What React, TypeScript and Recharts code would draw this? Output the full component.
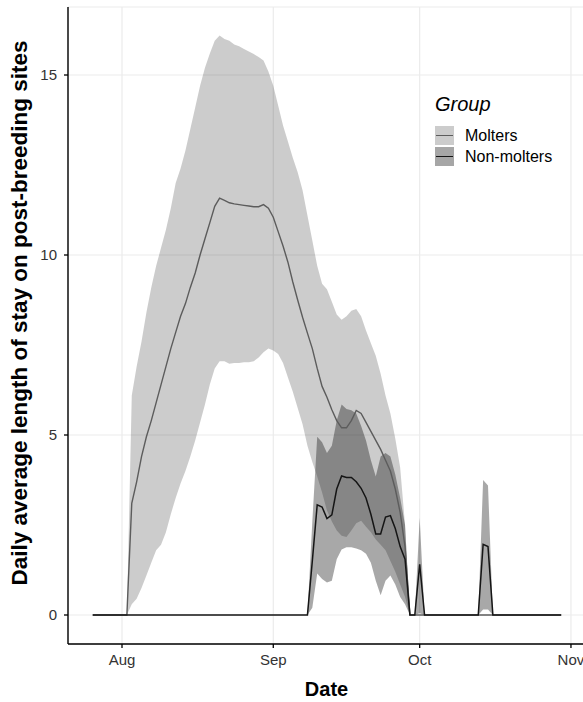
import React from 'react';
import { ComposedChart, Area, Line, XAxis, YAxis, CartesianGrid, Legend } from 'recharts';

const FONT = "'Liberation Sans', Arial, Helvetica, sans-serif";

// day offsets counted from Aug 1 (0 = Aug 1)
const days = [
  -6,
  1, 2, 3, 4, 5, 6, 7, 8, 9, 10,
  11, 12, 13, 14, 15, 16, 17, 18, 19, 20,
  21, 22, 23, 24, 25, 26, 27, 28, 29, 30,
  31, 32, 33, 34, 35, 36, 37, 38, 39, 40,
  41, 42, 43, 44, 45, 46, 47, 48, 49, 50,
  51, 52, 53, 54, 55, 56, 57, 58, 59,
  60, 61, 62, 73, 74, 75, 76, 90,
];

const moltersMean = [
  0,
  0, 3.1, 3.7, 4.4, 4.95, 5.4, 5.9, 6.4, 6.9, 7.4,
  7.85, 8.3, 8.65, 9.1, 9.5, 10.0, 10.45, 10.9, 11.35, 11.58,
  11.52, 11.45, 11.42, 11.4, 11.38, 11.36, 11.34, 11.34, 11.4, 11.3,
  11.05, 10.65, 10.25, 9.8, 9.25, 8.75, 8.27, 7.83, 7.4, 6.85,
  6.35, 6.05, 5.7, 5.4, 5.2, 5.2, 5.4, 5.68, 5.6, 5.35,
  5.1, 4.85, 4.6, 4.3, 4.0, 3.5, 2.85, 1.9, 0,
  0, 0, 0, 0, 0, 0, 0, 0,
];

const moltersLow = [
  0,
  0, 0.3, 0.45, 0.75, 1.1, 1.45, 1.8, 1.95, 2.3, 2.8,
  3.25, 3.65, 4.0, 4.4, 4.85, 5.35, 5.85, 6.4, 6.85, 7.05,
  7.05, 6.98, 7.0, 7.0, 7.02, 7.02, 7.05, 7.15, 7.3, 7.4,
  7.35, 7.25, 7.0, 6.6, 6.2, 5.75, 5.3, 4.7, 4.25, 3.85,
  3.4, 2.9, 2.6, 2.35, 2.2, 2.17, 2.35, 2.55, 2.62, 2.45,
  2.3, 2.1, 1.95, 1.8, 1.5, 1.2, 0.85, 0.5, 0,
  0, 0, 0, 0, 0, 0, 0, 0,
];

const moltersHigh = [
  0,
  0, 6.1, 6.9, 7.6, 8.4, 9.1, 9.7, 10.2, 10.7, 11.3,
  12.0, 12.4, 12.9, 13.5, 14.1, 14.7, 15.2, 15.6, 15.95, 16.1,
  16.0, 15.95, 15.85, 15.8, 15.72, 15.65, 15.58, 15.5, 15.4, 15.1,
  14.7, 14.15, 13.6, 13.15, 12.7, 12.3, 11.8, 11.1, 10.4, 9.7,
  9.2, 9.05, 8.7, 8.35, 8.2, 8.3, 8.45, 8.5, 8.3, 7.9,
  7.55, 7.2, 6.7, 6.1, 5.6, 4.9, 4.1, 2.5, 0,
  0, 0, 0, 0, 0, 0, 0, 0,
];

const nonMoltersMean = [
  0,
  0, 0, 0, 0, 0, 0, 0, 0, 0, 0,
  0, 0, 0, 0, 0, 0, 0, 0, 0, 0,
  0, 0, 0, 0, 0, 0, 0, 0, 0, 0,
  0, 0, 0, 0, 0, 0, 0, 0, 1.5, 3.06,
  3.0, 2.68, 2.78, 3.5, 3.86, 3.82, 3.82, 3.7, 3.52, 3.25,
  2.8, 2.25, 2.25, 2.72, 2.76, 2.4, 1.9, 1.55, 0,
  0, 1.41, 0, 0, 1.96, 1.9, 0, 0,
];

const nonMoltersLow = [
  0,
  0, 0, 0, 0, 0, 0, 0, 0, 0, 0,
  0, 0, 0, 0, 0, 0, 0, 0, 0, 0,
  0, 0, 0, 0, 0, 0, 0, 0, 0, 0,
  0, 0, 0, 0, 0, 0, 0, 0, 0.2, 1.15,
  1.0, 0.9, 0.95, 1.55, 1.82, 1.88, 1.88, 1.85, 1.8, 1.7,
  1.45, 0.95, 0.55, 0.95, 1.1, 0.85, 0.5, 0.3, 0,
  0, 0.05, 0, 0, 0.15, 0.15, 0, 0,
];

const nonMoltersHigh = [
  0,
  0, 0, 0, 0, 0, 0, 0, 0, 0, 0,
  0, 0, 0, 0, 0, 0, 0, 0, 0, 0,
  0, 0, 0, 0, 0, 0, 0, 0, 0, 0,
  0, 0, 0, 0, 0, 0, 0, 0, 2.6, 4.95,
  4.8, 4.5, 4.7, 5.4, 5.85, 5.72, 5.69, 5.6, 5.25, 4.85,
  4.3, 3.85, 4.4, 4.5, 4.4, 3.9, 3.25, 2.5, 0,
  0, 2.7, 0, 0, 3.75, 3.6, 0, 0,
];

const monthTicks = [0, 31, 61, 92];
const monthLabels = ['Aug', 'Sep', 'Oct', 'Nov'];
const yTicks = [0, 5, 10, 15];
const groups = ['Molters', 'Non-molters'];
const keyFills = ['#cccccc', '#a6a6a6'];
const lineColors = ['#5c5c5c', '#151515'];

const data = days.map((day, i) => ({
  day,
  mRange: [moltersLow[i], moltersHigh[i]],
  mMean: moltersMean[i],
  nRange: [nonMoltersLow[i], nonMoltersHigh[i]],
  nMean: nonMoltersMean[i],
}));

const GroupLegend = () => (
  <div style={{ fontFamily: FONT, color: '#000', textAlign: 'left' }}>
    <div style={{ fontSize: 20, fontStyle: 'italic', lineHeight: '22px', marginBottom: 11 }}>Group</div>
    {groups.map((g, i) => (
      <div key={g} style={{ display: 'flex', alignItems: 'center', height: 19, marginBottom: 2 }}>
        <div style={{ width: 19, height: 19, background: keyFills[i], position: 'relative' }}>
          <div style={{ position: 'absolute', left: 1, right: 1, top: 9, height: 1.3, background: lineColors[i] }} />
        </div>
        <span style={{ marginLeft: 11, fontSize: 16, lineHeight: '19px' }}>{g}</span>
      </div>
    ))}
  </div>
);

// rotated y title, a bit above the panel centre like the original
const YTitle = () => {
  const cx = 19;
  const cy = 313;
  return (
    <text
      x={cx}
      y={cy}
      transform={`rotate(-90, ${cx}, ${cy})`}
      textAnchor="middle"
      dominantBaseline="central"
      style={{ fontFamily: FONT, fontSize: 22.5, fontWeight: 'bold', fill: '#000' }}
    >
      Daily average length of stay on post-breeding sites
    </text>
  );
};

const XTitle = (props: any) => {
  const vb = props.viewBox || {};
  const cx = (vb.x ?? 68) + (vb.width ?? 517) / 2;
  return (
    <text x={cx} y={696} textAnchor="middle" style={{ fontFamily: FONT, fontSize: 20, fontWeight: 'bold', fill: '#000' }}>
      Date
    </text>
  );
};

const App = () => {
  return (
    <div style={{ position: 'absolute', left: 0, top: 0, width: 583, height: 702, overflow: 'hidden', background: '#fff' }}>
      <ComposedChart width={600} height={702} data={data} margin={{ top: 7, right: 15, bottom: 0, left: 0 }}>
        <CartesianGrid stroke="#ebebeb" strokeWidth={1.2} />
        <XAxis
          type="number"
          dataKey="day"
          domain={[-11.066, 94.877]}
          allowDataOverflow
          ticks={monthTicks}
          interval={0}
          tickFormatter={(v: number) => monthLabels[monthTicks.indexOf(v)]}
          height={58}
          tickSize={4}
          tickMargin={6}
          axisLine={{ stroke: '#000', strokeWidth: 1.4 }}
          tickLine={{ stroke: '#000', strokeWidth: 1.3 }}
          tick={{ fill: '#333', fontSize: 15, fontFamily: FONT }}
          label={{ content: XTitle }}
        />
        <YAxis
          type="number"
          domain={[-0.8056, 16.889]}
          allowDataOverflow
          ticks={yTicks}
          interval={0}
          width={68}
          tickSize={4}
          tickMargin={7}
          axisLine={{ stroke: '#000', strokeWidth: 1.4 }}
          tickLine={{ stroke: '#000', strokeWidth: 1.3 }}
          tick={{ fill: '#333', fontSize: 15, fontFamily: FONT }}
          label={{ content: YTitle }}
        />
        <Area
          type="linear"
          dataKey="mRange"
          fill="#000"
          fillOpacity={0.2}
          stroke="none"
          isAnimationActive={false}
          activeDot={false}
        />
        <Area
          type="linear"
          dataKey="nRange"
          fill="#000"
          fillOpacity={0.34}
          stroke="none"
          isAnimationActive={false}
          activeDot={false}
        />
        <Line
          type="linear"
          dataKey="mMean"
          stroke={lineColors[0]}
          strokeWidth={1.4}
          dot={false}
          activeDot={false}
          isAnimationActive={false}
        />
        <Line
          type="linear"
          dataKey="nMean"
          stroke={lineColors[1]}
          strokeWidth={1.5}
          dot={false}
          activeDot={false}
          isAnimationActive={false}
        />
        <Legend
          layout="vertical"
          align="center"
          verticalAlign="middle"
          wrapperStyle={{ left: 435, top: 93, width: 140, height: 'auto' }}
          content={() => <GroupLegend />}
        />
      </ComposedChart>
    </div>
  );
};

export default App;
